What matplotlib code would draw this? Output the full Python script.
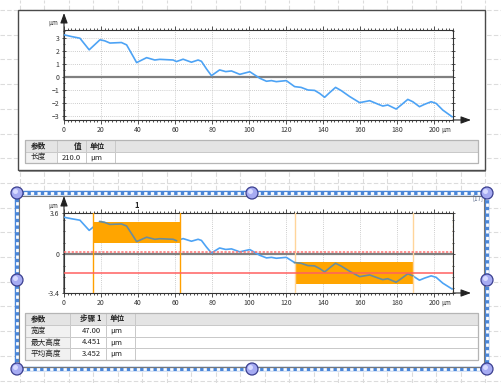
import numpy as np
import matplotlib
matplotlib.use("Agg")
import matplotlib.pyplot as plt
from matplotlib.patches import Rectangle, Circle
from matplotlib.ticker import MultipleLocator, FixedLocator
import matplotlib.transforms as mtrans

plt.rcParams['font.family'] = ['Noto Sans CJK SC', 'DejaVu Sans']

W, H = 502, 383

# ---- data ----
profile_x = [0, 4, 8.6, 13.6, 19.4, 22, 24.8, 31, 33.8, 37.4, 39.2, 44.6, 49, 51.7,
             58.9, 60.7, 64.3, 68.8, 72.4, 74.2, 76.9, 79.6, 84, 87.3, 90.4, 94.9,
             100.3, 105.7, 109.3, 112, 114.6, 120, 124.5, 128, 131.7, 135.3, 138,
             140.7, 143.4, 146.6, 149.7, 154.2, 159.6, 165, 169.4, 172.1, 174.8,
             179.3, 182, 185.6, 188.3, 191.9, 194.6, 198.2, 200.9, 204.5, 209.5]
profile_y = [3.23, 3.1, 2.97, 2.08, 2.85, 2.77, 2.6, 2.64, 2.46, 1.56, 1.1, 1.48, 1.3, 1.35,
             1.3, 1.18, 1.36, 1.13, 1.3, 1.2, 0.62, 0.1, 0.54, 0.41, 0.46, 0.2,
             0.4, -0.1, -0.33, -0.28, -0.36, -0.28, -0.74, -0.8, -1.0, -1.03, -1.26,
             -1.56, -1.2, -0.8, -1.05, -1.5, -1.97, -1.82, -2.08, -2.23, -2.15,
             -2.46, -2.15, -1.72, -1.9, -2.28, -2.1, -1.9, -2.03, -2.54, -3.05]

x_ticks = [0, 20, 40, 60, 80, 100, 120, 140, 160, 180, 200]
top_yticks = [-3, -2, -1, 0, 1, 2, 3]
bottom_yticks = [-3.4, 0, 3.6]
bottom_ylabels = ["-3.4", "0", "3.6"]

# step zones: (x0, x1, y_low, y_high)
zones = [(15.6, 62.6, 0.97, 2.8), (124.5, 188.3, -2.6, -0.69)]
zone_edge_colors = ["#ffa000", "#ffd59a"]
ref_upper = 0.2
ref_lower = -1.65

top_header = ["参数", "值", "单位"]
top_rows = [["长度", "210.0", "µm"]]
bottom_header = ["参数", "步骤 1", "单位"]
bottom_rows = [["宽度", "47.00", "µm"],
               ["最大高度", "4.451", "µm"],
               ["平均高度", "3.452", "µm"]]

BLUE = "#4da3f5"
ORANGE = "#ffa500"

fig = plt.figure(figsize=(W / 100, H / 100), dpi=100)

def rect(l, t, r, b):
    return [l / W, 1 - b / H, (r - l) / W, (b - t) / H]

# ---- background canvas in pixel coords ----
bg = fig.add_axes([0, 0, 1, 1])
bg.set_xlim(0, W); bg.set_ylim(H, 0); bg.axis("off")
for gx in np.arange(20, W, 24.5):
    bg.axvline(gx, color="#dcdcdc", lw=0.8, ls=(0, (4, 2)), zorder=0)
for gy in np.arange(10, H, 24.7):
    bg.axhline(gy, color="#dcdcdc", lw=0.8, ls=(0, (4, 2)), zorder=0)

# top panel
bg.add_patch(Rectangle((19.5, 11.5), 467, 160, fc="#9a9a9a", ec="none", zorder=1))
bg.add_patch(Rectangle((18, 10), 467, 160, fc="white", ec="#4a4a4a", lw=1.0, zorder=2))
# bottom panel (selected)
bg.add_patch(Rectangle((17, 193), 470, 176, fc="white", ec="none", zorder=1))
bg.add_patch(Rectangle((17, 193), 470, 176, fc="none", ec="#4a86d8", lw=3.2, zorder=3))
bg.add_patch(Rectangle((17, 193), 470, 176, fc="none", ec="white", lw=2.0,
                       ls=(0, (1.2, 1.2)), zorder=4))
bg.add_patch(Rectangle((19.5, 195.5), 465, 171, fc="none", ec="#777777", lw=0.8, zorder=4))
for hx, hy in [(17, 193), (252, 193), (487, 193), (17, 280), (487, 280),
               (17, 369), (252, 369), (487, 369)]:
    bg.add_patch(Circle((hx, hy), 6, fc="#a6abf2", ec="#3b3f8f", lw=0.9, zorder=6))
    bg.add_patch(Circle((hx - 1.5, hy - 1.5), 2.5, fc="#d8dbff", ec="none", zorder=7))
bg.text(478, 198, "[17]", fontsize=4.5, color="#5a6a8a", ha="center", va="center", zorder=5)

def draw_table(cols, rows_y, header, rows):
    for i in range(len(rows_y) - 1):
        t, b = rows_y[i], rows_y[i + 1]
        for j in range(len(cols) - 1):
            l, r = cols[j], cols[j + 1]
            if i == 0:
                fc = "#e4e4e4"
            elif j == 0:
                fc = "#f1f1f1"
            else:
                fc = "white"
            bg.add_patch(Rectangle((l, t), r - l, b - t, fc=fc, ec="#c9c9c9", lw=0.7, zorder=3))
    bg.add_patch(Rectangle((cols[0], rows_y[0]), cols[-1] - cols[0], rows_y[-1] - rows_y[0],
                           fc="none", ec="#b5b5b5", lw=0.9, zorder=4))
    texts = [header] + rows
    for i, row in enumerate(texts):
        yc = (rows_y[i] + rows_y[i + 1]) / 2
        weight = "bold" if i == 0 else "normal"
        bg.text(cols[0] + 6, yc, row[0], fontsize=5.5, va="center", ha="left",
                color="#222222", weight=weight, zorder=5)
        if i == 0:
            bg.text(cols[2] - 4, yc, row[1], fontsize=5.5, va="center", ha="right",
                    color="#222222", weight=weight, zorder=5)
        else:
            bg.text(cols[2] - 5, yc, row[1], fontsize=5.5, va="center", ha="right",
                    color="#222222", zorder=5)
        bg.text(cols[2] + 4, yc, row[2], fontsize=5.5, va="center", ha="left",
                color="#222222", weight=weight, zorder=5)

draw_table([25, 57, 86, 115, 478], [140, 152, 163], top_header, top_rows)
draw_table([25, 70, 106, 135, 478], [313, 325, 336.7, 348.3, 360], bottom_header, bottom_rows)

# axis arrows
for (x0, y0, x1, y1) in [(64, 120, 64, 13), (453, 120, 471, 120),
                         (64, 293, 64, 196), (453, 293, 471, 293)]:
    bg.annotate("", xy=(x1, y1), xytext=(x0, y0),
                arrowprops=dict(arrowstyle="-|>,head_length=0.6,head_width=0.22",
                                color="#222222", lw=0.8, shrinkA=0, shrinkB=0), zorder=5)
bg.text(53, 23, "µm", fontsize=4.5, ha="center", va="center", color="#333333", zorder=5)
bg.text(53, 206, "µm", fontsize=4.5, ha="center", va="center", color="#333333", zorder=5)


def style_axes(ax):
    ax.set_facecolor("none")
    for s in ax.spines.values():
        s.set_color("#333333"); s.set_linewidth(0.8)
    ax.set_xlim(0, 210)
    ax.xaxis.set_major_locator(FixedLocator(x_ticks))
    ax.xaxis.set_minor_locator(MultipleLocator(2))
    ax.tick_params(axis="x", which="both", top=True, direction="out", labelsize=5,
                   pad=1.5, colors="#333333", width=0.6)
    ax.tick_params(axis="x", which="major", length=3)
    ax.tick_params(axis="x", which="minor", length=1.6)
    ax.tick_params(axis="y", which="both", right=True, direction="inout", labelsize=5,
                   pad=1.5, colors="#333333", width=0.6)
    ax.tick_params(axis="y", which="major", length=3.5)
    ax.tick_params(axis="y", which="minor", length=2)
    ax.xaxis.grid(True, color="#bdbdbd", lw=0.6, ls=(0, (1, 1.5)))
    ax.text(206.5, -0.065, "µm", transform=ax.get_xaxis_transform(), fontsize=4.5,
            ha="center", va="top", color="#333333")
    ax.axhline(0, color="#808080", lw=1.6, zorder=2)


# ---- top chart ----
ax1 = fig.add_axes(rect(64, 30, 453, 120))
style_axes(ax1)
ax1.set_ylim(-3.3, 3.6)
ax1.set_yticks(top_yticks)
ax1.yaxis.set_minor_locator(MultipleLocator(0.5))
ax1.yaxis.grid(True, color="#bdbdbd", lw=0.6, ls=(0, (1, 1.5)))
ax1.plot(profile_x, profile_y, color=BLUE, lw=1.2, zorder=3)

# ---- bottom chart ----
ax2 = fig.add_axes(rect(64, 213, 453, 293))
style_axes(ax2)
ax2.set_ylim(-3.4, 3.6)
ax2.set_yticks(bottom_yticks)
ax2.set_yticklabels(bottom_ylabels)
ax2.yaxis.set_minor_locator(MultipleLocator(1))
ax2.plot(profile_x, profile_y, color=BLUE, lw=1.2, zorder=3)
px = np.array(profile_x); py = np.array(profile_y)
for (x0, x1, ylo, yhi), ec in zip(zones, zone_edge_colors):
    ax2.add_patch(Rectangle((x0, ylo), x1 - x0, yhi - ylo, fc=ORANGE, ec="none", zorder=4))
    ax2.axvline(x0, color=ec, lw=1.0, zorder=4)
    ax2.axvline(x1, color=ec, lw=1.0, zorder=4)
    m = (px >= x0) & (px <= x1)
    ax2.plot(px[m], py[m], color="#6a8d9c", lw=1.2, zorder=5)
ax2.axvline(210, color="#b8862b", lw=0.9, ls=(0, (2, 1.5)), zorder=4)
ax2.axhline(ref_upper, color="#ff7070", lw=1.1, ls=(0, (1.5, 1)), zorder=6)
ax2.axhline(ref_lower, color="#ff6060", lw=1.1, zorder=6)
ax2.text(sum(zones[0][:2]) / 2, 1.1, "1", transform=ax2.get_xaxis_transform(),
         fontsize=5.5, weight="bold", ha="center", va="center", color="#222222")

fig.savefig("out.png", dpi=100)
